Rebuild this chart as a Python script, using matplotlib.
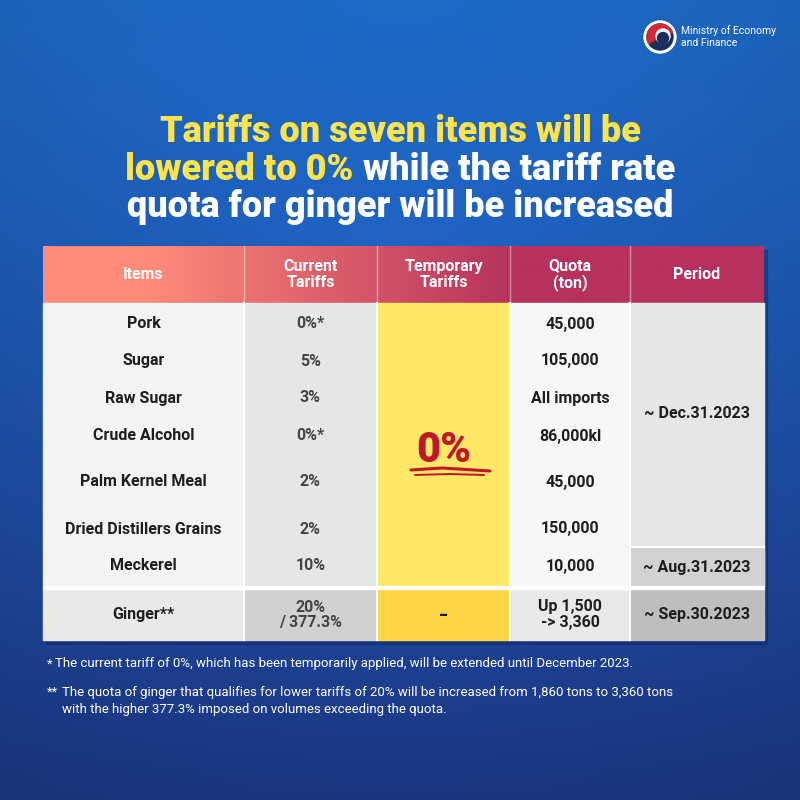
import numpy as np
import matplotlib.pyplot as plt
from matplotlib.patches import Rectangle, Circle, Wedge

# データ
items = ['Pork', 'Sugar', 'Raw Sugar', 'Crude Alcohol', 'Palm Kernel Meal',
         'Dried Distillers Grains', 'Meckerel', 'Ginger**']
current_tariffs = ['0%*', '5%', '3%', '0%*', '2%', '2%', '10%', '20%\n/ 377.3%']
quotas = ['45,000', '105,000', 'All imports', '86,000kl', '45,000', '150,000',
          '10,000', 'Up 1,500\n-> 3,360']
temporary = ['0%', '–']
periods = ['~ Dec.31.2023', '~ Aug.31.2023', '~ Sep.30.2023']
headers = ['Items', 'Current\nTariffs', 'Temporary\nTariffs', 'Quota\n(ton)', 'Period']

title_lines = [
  [('Tariffs on seven items will be', '#ffe34a')],
  [('lowered to 0%', '#ffe34a'), (' while the tariff rate', 'white')],
  [('quota for ginger will be increased', 'white')],
]
notes = [
  ('*', 'The current tariff of 0%, which has been temporarily applied, will be extended until December 2023.'),
  ('**', 'The quota of ginger that qualifies for lower tariffs of 20% will be increased from 1,860 tons to 3,360 tons\nwith the higher 377.3% imposed on volumes exceeding the quota.'),
]

COND = ['Roboto', 'DejaVu Sans']

fig = plt.figure(figsize=(8, 8), dpi=100)
ax = fig.add_axes([0, 0, 1, 1])
ax.set_xlim(0, 800)
ax.set_ylim(800, 0)
ax.axis('off')

# 背景（青のグラデーション）
yy, xx = np.mgrid[0:800, 0:800]
t = yy / 800.0
top = np.array([32, 118, 222]) / 255
bot = np.array([32, 62, 150]) / 255
bg = top[None, None, :] * (1 - t[..., None]) + bot[None, None, :] * t[..., None]
r = np.sqrt(((xx - 400) / 560.0) ** 2 + ((yy - 330) / 560.0) ** 2)
bg = bg * (1 - 0.18 * np.clip(r, 0, 1.3)[..., None])
ax.imshow(np.clip(bg, 0, 1), extent=[0, 800, 800, 0], zorder=0)

# ロゴ
cx, cy = 660, 37
ax.add_patch(Circle((cx, cy), 16, color='white', zorder=3))
ax.add_patch(Circle((cx, cy), 13, color='#1b2e5c', zorder=4))
ax.add_patch(Wedge((cx, cy), 13, 150, 340, color='#d12a35', zorder=5))
ax.add_patch(Circle((cx + 3, cy - 1), 7, color='white', zorder=6))
ax.add_patch(Circle((cx + 3, cy + 1), 5.5, color='#1b2e5c', zorder=7))
ax.text(681, 31, 'Ministry of Economy', color='white', fontsize=7.5, va='center', family='Roboto', zorder=5)
ax.text(681, 43, 'and Finance', color='white', fontsize=7.5, va='center', family='Roboto', zorder=5)

# タイトル（色分けした行を中央揃え）
fig.canvas.draw()
renderer = fig.canvas.get_renderer()
title_y = [132, 170, 207]
for line, y in zip(title_lines, title_y):
  objs = []
  for s, c in line:
    tx = ax.text(0, y, s, color=c, fontsize=26, fontweight='heavy', family=['Roboto', 'DejaVu Sans'],
                 va='center', ha='left', zorder=5)
    objs.append(tx)
  widths = [o.get_window_extent(renderer).width for o in objs]
  x = 400 - sum(widths) / 2
  for o, w in zip(objs, widths):
    o.set_x(x)
    x += w

# テーブル
cols = [43, 244, 377, 510, 630, 764]
hdr_top, hdr_bot = 246, 303
body_bot = 586
gin_top, gin_bot = 589, 640
row_y = [324, 361, 398, 436, 482, 529, 566]
aug_top = 547

# 影
ax.add_patch(Rectangle((cols[0] + 3, hdr_top + 4), cols[-1] - cols[0], gin_bot - hdr_top,
                       color='#0d1f55', alpha=0.35, zorder=1))

# ヘッダーのグラデーション
hx = np.linspace(0, 1, 400)
c_left = np.array([255, 138, 120]) / 255
c_right = np.array([182, 50, 92]) / 255
tt = np.clip((hx - 0.15) / 0.5, 0, 1)[None, :, None]
grad = c_left * (1 - tt) + c_right * tt
ax.imshow(np.repeat(grad, 2, axis=0), extent=[cols[0], cols[-1], hdr_bot, hdr_top], aspect='auto', zorder=2)
for x in cols[1:-1]:
  ax.plot([x, x], [hdr_top, hdr_bot], color='white', alpha=0.45, lw=1, zorder=3)
for i, h in enumerate(headers):
  ax.text((cols[i] + cols[i + 1]) / 2, (hdr_top + hdr_bot) / 2, h, color='white', fontsize=11.5,
          fontweight='bold', family=COND, ha='center', va='center', linespacing=1.15, zorder=4)

# 本体のセル
body_cols = ['#f3f3f3', '#e6e6e6', '#ffe866', '#f6f6f6', '#e6e6e6']
for i, c in enumerate(body_cols):
  ax.add_patch(Rectangle((cols[i], hdr_bot), cols[i + 1] - cols[i], body_bot - hdr_bot, color=c, zorder=2))
ax.add_patch(Rectangle((cols[4], aug_top), cols[5] - cols[4], body_bot - aug_top, color='#d2d2d2', zorder=2))
ax.plot([cols[4], cols[5]], [aug_top, aug_top], color='white', lw=1.5, zorder=3)

gin_cols = ['#e9e9e9', '#d1d1d1', '#ffd545', '#e9e9e9', '#bebebe']
for i, c in enumerate(gin_cols):
  ax.add_patch(Rectangle((cols[i], gin_top), cols[i + 1] - cols[i], gin_bot - gin_top, color=c, zorder=2))
ax.add_patch(Rectangle((cols[0], body_bot), cols[-1] - cols[0], gin_top - body_bot, color='white', zorder=2))
for x in cols[1:-1]:
  ax.plot([x, x], [hdr_bot, gin_bot], color='white', lw=1.5, zorder=3)

all_y = row_y + [(gin_top + gin_bot) / 2]
for k, y in enumerate(all_y):
  ax.text((cols[0] + cols[1]) / 2, y, items[k], color='#1e1e1e', fontsize=11.5, fontweight='bold',
          family=COND, ha='center', va='center', zorder=4)
  ax.text((cols[1] + cols[2]) / 2, y, current_tariffs[k], color='#444444', fontsize=11.5, fontweight='bold',
          family=COND, ha='center', va='center', linespacing=1.0, zorder=4)
  ax.text((cols[3] + cols[4]) / 2, y, quotas[k], color='#1e1e1e', fontsize=11.5, fontweight='bold',
          family=COND, ha='center', va='center', linespacing=1.0, zorder=4)

# 0%（一時関税）
tcx = (cols[2] + cols[3]) / 2
ax.text(tcx, 450, temporary[0], color='#c0182a', fontsize=30, fontweight='heavy', family=COND,
        ha='center', va='center', zorder=4)
ax.plot([411, 442, 490], [470, 468, 471], color='#c0182a', lw=2.2, solid_capstyle='round', zorder=4)
ax.plot([415, 450, 484], [475, 474, 475], color='#c0182a', lw=1.4, solid_capstyle='round', zorder=4)
ax.text(tcx, (gin_top + gin_bot) / 2, temporary[1], color='#1e1e1e', fontsize=13, fontweight='bold',
        ha='center', va='center', zorder=4)

# 期間
pcx = (cols[4] + cols[5]) / 2
ax.text(pcx, 414, periods[0], color='#1e1e1e', fontsize=11.5, fontweight='bold',
        family=COND, ha='center', va='center', zorder=4)
ax.text(pcx, (aug_top + body_bot) / 2 + 1, periods[1], color='#1e1e1e', fontsize=11.5, fontweight='bold',
        family=COND, ha='center', va='center', zorder=4)
ax.text(pcx, (gin_top + gin_bot) / 2, periods[2], color='#1e1e1e', fontsize=11.5, fontweight='bold',
        family=COND, ha='center', va='center', zorder=4)

# 注釈
ax.text(47, 664, notes[0][0], color='white', fontsize=9.5, family=COND, va='center', zorder=5)
ax.text(55, 664, notes[0][1], color='white', fontsize=9.5, family=COND, va='center', zorder=5)
ax.text(47, 692, notes[1][0], color='white', fontsize=9.5, family=COND, va='center', zorder=5)
ax.text(62, 701, notes[1][1], color='white', fontsize=9.5, family=COND, va='center',
        linespacing=1.45, zorder=5)

fig.savefig('out.png', dpi=100)
